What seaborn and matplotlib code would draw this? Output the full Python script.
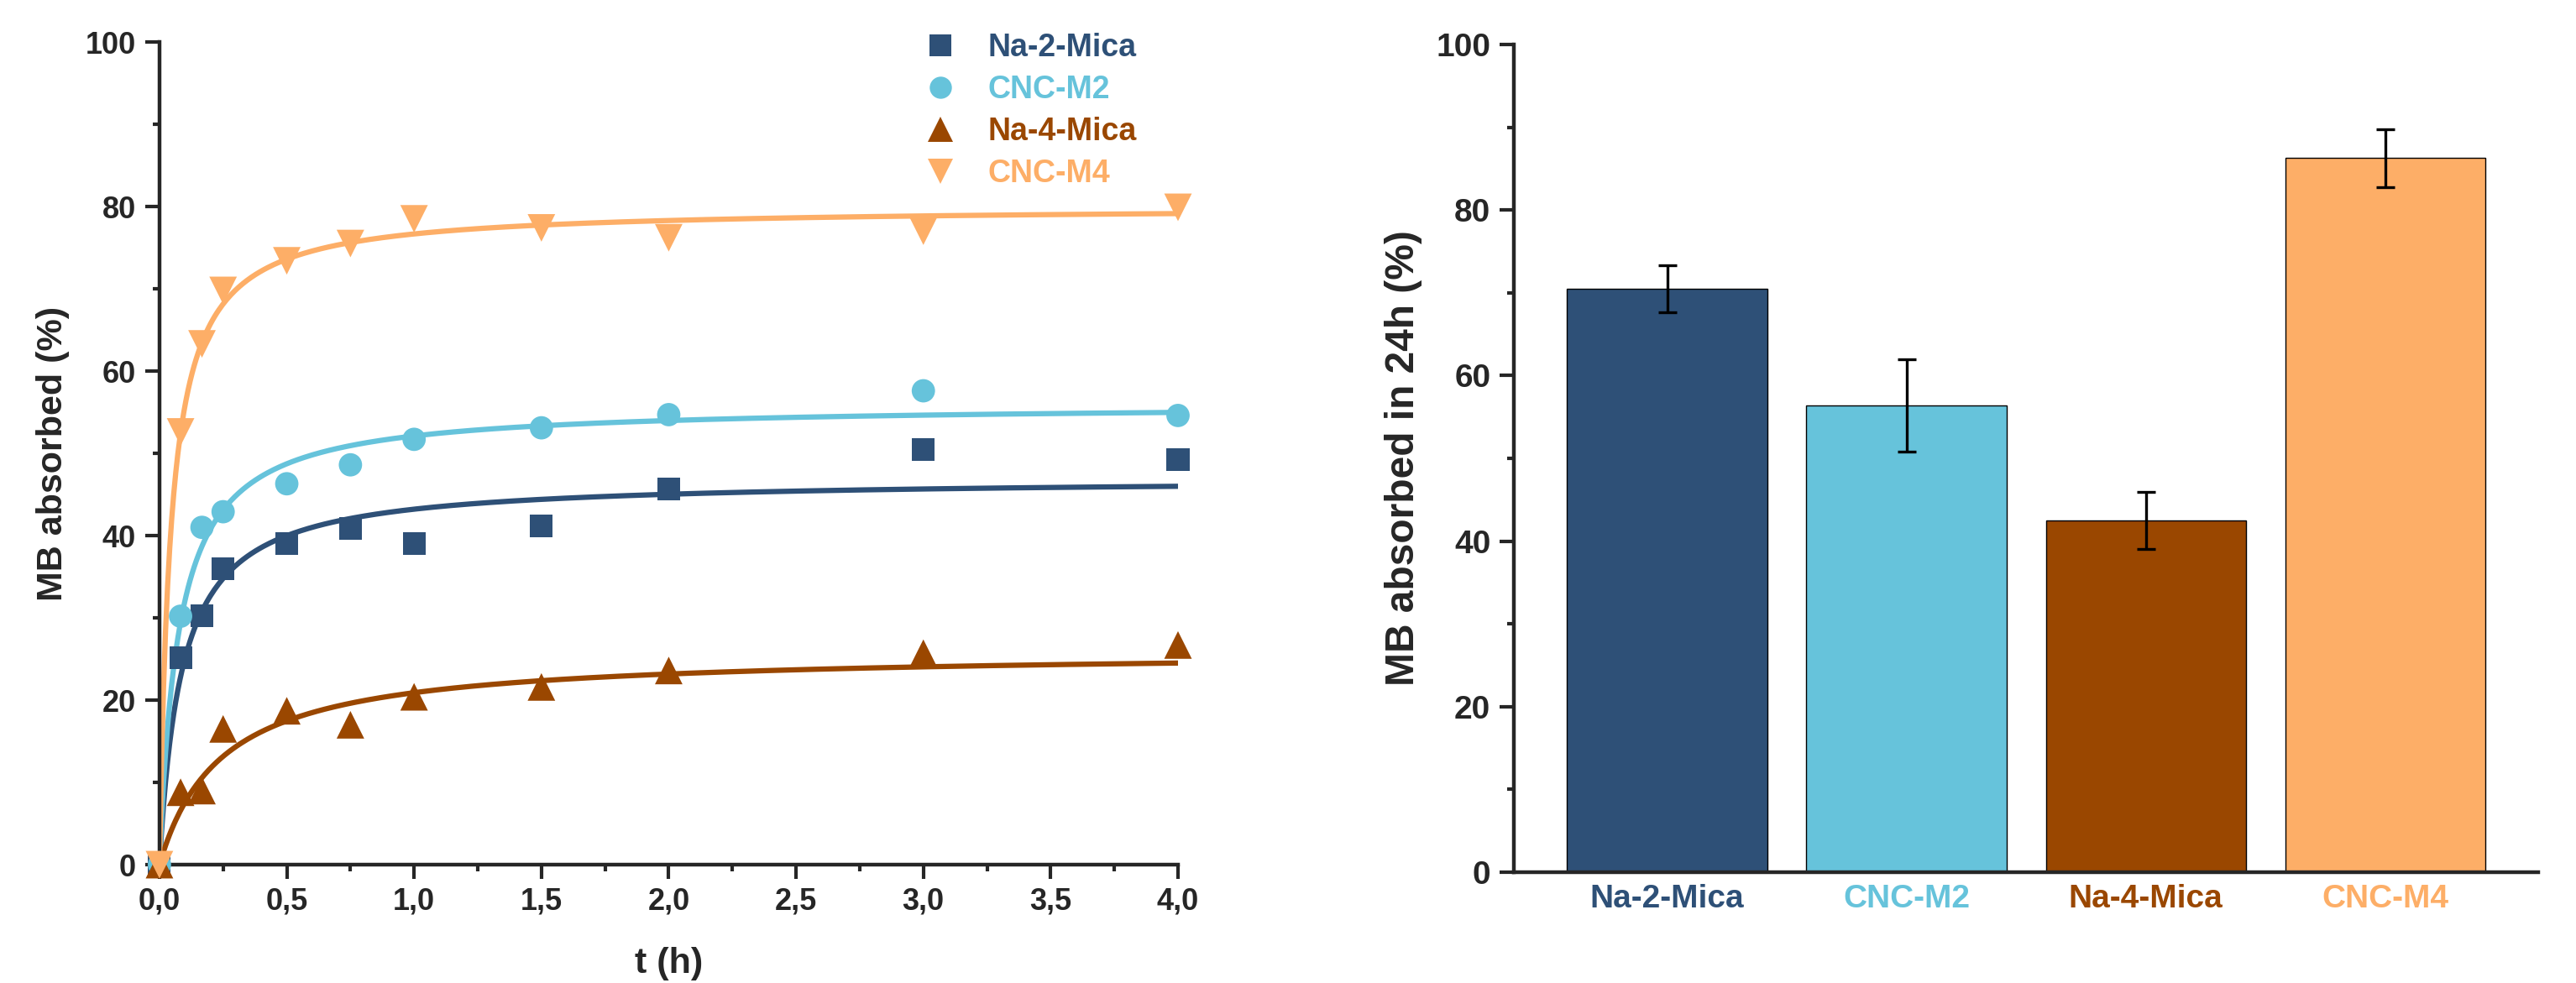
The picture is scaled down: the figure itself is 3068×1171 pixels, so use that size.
import numpy as np
import pandas as pd
import seaborn as sns
import matplotlib.pyplot as plt
from matplotlib.lines import Line2D
from matplotlib.ticker import MultipleLocator, FuncFormatter

# kinetics: time points (h) and MB absorbed (%)
t_h = [0, 0.083, 0.167, 0.25, 0.5, 0.75, 1.0, 1.5, 2.0, 3.0, 4.0]
na2_mica = [0, 25.2, 30.3, 36.0, 39.0, 40.9, 39.0, 41.2, 45.7, 50.5, 49.2]
cnc_m2 = [0, 30.2, 41.0, 42.9, 46.3, 48.6, 51.7, 53.1, 54.7, 57.6, 54.6]
na4_mica = [0, 8.8, 9.0, 16.5, 18.7, 17.0, 20.4, 21.6, 23.6, 25.7, 26.7]
cnc_m4 = [0, 52.6, 63.3, 69.8, 73.4, 75.5, 78.5, 77.4, 76.2, 77.0, 79.9]

# pseudo-second-order fit parameters: qe (%) and qe*k (1/h)
fit_qe = [47.0, 56.0, 26.0, 80.0]
fit_qek = [11.4, 13.4, 4.1, 23.0]

# 24 h absorption bars
samples = ['Na-2-Mica', 'CNC-M2', 'Na-4-Mica', 'CNC-M4']
mb_24h = [70.5, 56.4, 42.5, 86.3]
mb_24h_err = [2.8, 5.6, 3.4, 3.5]

colors = ['#2E5077', '#66C3DB', '#9A4700', '#FDAE67']
markers = ['s', 'o', '^', 'v']
msizes = [380, 400, 560, 560]

sns.set_style('ticks')
plt.rcParams['font.family'] = ['Liberation Sans', 'DejaVu Sans']
plt.rcParams['font.weight'] = 'bold'
plt.rcParams['axes.labelweight'] = 'bold'

fig = plt.figure(figsize=(30.68, 11.71), dpi=100)
ax1 = fig.add_axes([0.0619, 0.1204, 0.3954, 0.8369])
ax2 = fig.add_axes([0.5877, 0.1127, 0.3977, 0.842])

# left panel: kinetics
series = [na2_mica, cnc_m2, na4_mica, cnc_m4]
t_fit = np.linspace(0, 4, 500)
handles = []
for i, vals in enumerate(series):
    qe, qek = fit_qe[i], fit_qek[i]
    q_fit = qe * qek * t_fit / (1 + qek * t_fit)
    sns.lineplot(x=t_fit, y=q_fit, color=colors[i], lw=4.5, ax=ax1, zorder=2)
for i, vals in enumerate(series):
    sns.scatterplot(x=t_h, y=vals, marker=markers[i], color=colors[i], s=msizes[i],
                    edgecolor='none', linewidth=0, ax=ax1, zorder=3, clip_on=False)
    handles.append(Line2D([], [], ls='none', marker=markers[i], color=colors[i],
                          markersize=19 if i < 2 else 22, markeredgewidth=0))

ax1.set_xlim(0, 4)
ax1.set_ylim(0, 100)
ax1.xaxis.set_major_locator(MultipleLocator(0.5))
ax1.xaxis.set_minor_locator(MultipleLocator(0.25))
ax1.yaxis.set_major_locator(MultipleLocator(20))
ax1.yaxis.set_minor_locator(MultipleLocator(10))
ax1.xaxis.set_major_formatter(FuncFormatter(lambda v, p: f'{v:.1f}'.replace('.', ',')))
ax1.set_xlabel('t (h)', fontsize=31)
ax1.set_ylabel('MB absorbed (%)', fontsize=31)
ax1.yaxis.set_label_coords(-0.088, 0.5)
ax1.xaxis.set_label_coords(0.5, -0.1)
leg = ax1.legend(handles, samples, loc='upper left', bbox_to_anchor=(0.359, 0.967),
                 bbox_transform=fig.transFigure, frameon=False, fontsize=27,
                 handlelength=1.0, handletextpad=1.0, labelspacing=0.38,
                 borderpad=0, borderaxespad=0)
for txt, c in zip(leg.get_texts(), colors):
    txt.set_color(c)

# right panel: 24 h bars
df = pd.DataFrame({'sample': samples, 'mb': mb_24h})
sns.barplot(data=df, x='sample', y='mb', hue='sample', palette=colors, width=0.836,
            saturation=1, edgecolor='black', linewidth=1, legend=False, ax=ax2)
ax2.errorbar(range(len(samples)), mb_24h, yerr=mb_24h_err, fmt='none', ecolor='black',
             elinewidth=2.4, capsize=8, capthick=2.4, zorder=5)
ax2.set_xlim(-0.64, 3.64)
ax2.set_ylim(0, 100)
ax2.yaxis.set_major_locator(MultipleLocator(20))
ax2.yaxis.set_minor_locator(MultipleLocator(10))
ax2.set_xlabel('')
ax2.set_ylabel('MB absorbed in 24h (%)', fontsize=34.5)
ax2.yaxis.set_label_coords(-0.089, 0.5)
for lab, c in zip(ax2.get_xticklabels(), colors):
    lab.set_color(c)

for ax in (ax1, ax2):
    sns.despine(ax=ax)
    for s in ('left', 'bottom'):
        ax.spines[s].set_linewidth(3.2)
    ax.tick_params(which='major', length=12, width=3, direction='out')
    ax.tick_params(which='minor', length=6, width=3, direction='out')
    ax.tick_params(axis='x', pad=7)
    ax.tick_params(axis='y', pad=8)
ax1.tick_params(labelsize=26)
ax2.tick_params(labelsize=28)
ax2.tick_params(axis='x', length=0, pad=10)

fig.savefig('out.png', dpi=100)
